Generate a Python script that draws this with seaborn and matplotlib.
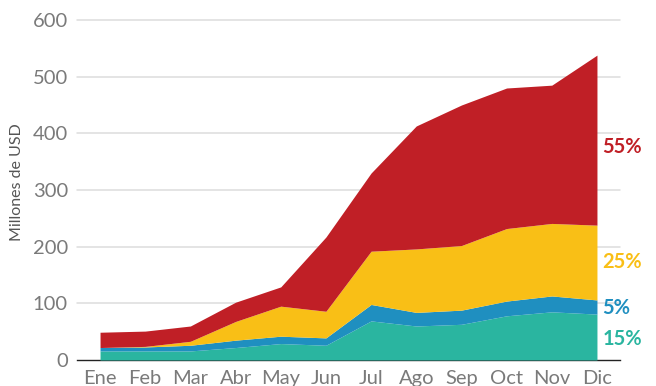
import matplotlib
matplotlib.use("Agg")
import matplotlib.pyplot as plt
import numpy as np
import seaborn as sns

# Monthly values (millions of USD) for each stacked layer, bottom to top
months = ["Ene", "Feb", "Mar", "Abr", "May", "Jun",
          "Jul", "Ago", "Sep", "Oct", "Nov", "Dic"]
teal_vals = [16, 16, 16, 22, 29, 26, 69, 60, 63, 78, 85, 81]
blue_vals = [6, 7, 10, 13, 13, 13, 29, 24, 25, 26, 28, 25]
yellow_vals = [0, 1, 7, 33, 53, 47, 94, 112, 114, 128, 128, 132]
red_vals = [27, 27, 27, 34, 34, 131, 138, 217, 248, 248, 244, 300]
share_labels = ["15%", "5%", "25%", "55%"]
y_ticks = [0, 100, 200, 300, 400, 500, 600]

colors = ["#2AB5A0", "#1F8FC0", "#F9BF16", "#C01F26"]
label_y = [37, 92, 173, 376]  # vertical placement of the share labels

sns.set_theme(style="white")
plt.rcParams["font.family"] = ["Lato", "DejaVu Sans"]

fig = plt.figure(figsize=(6.56, 3.86), dpi=100)
ax = fig.add_axes([77 / 656, 1 - 360 / 386, 543 / 656, 340 / 386])

x = np.arange(len(months))
ax.stackplot(x, teal_vals, blue_vals, yellow_vals, red_vals,
             colors=colors, linewidth=0, zorder=3)

ax.set_xlim(-0.51, 11.51)
ax.set_ylim(0, 600)
ax.set_yticks(y_ticks)
ax.set_xticks(x)
ax.set_xticklabels(months)

for v in y_ticks[1:]:
    ax.axhline(v, color="#DCDCDC", lw=1.1, zorder=1, clip_on=False)

for side in ["top", "right", "left"]:
    ax.spines[side].set_visible(False)
ax.spines["bottom"].set_color("#222222")
ax.spines["bottom"].set_linewidth(1.0)
ax.spines["bottom"].set_zorder(2)

ax.tick_params(axis="both", length=0, labelsize=14.5, labelcolor="#7A7A7A")
ax.tick_params(axis="y", pad=6.5)
ax.tick_params(axis="x", pad=7)

ax.set_ylabel("Millones de USD", fontsize=11.5, color="#555555")
ax.yaxis.set_label_coords(-0.097, 0.524)

for txt, yv, col in zip(share_labels, label_y, colors):
    ax.annotate(txt, xy=(x[-1], yv), xytext=(4, 0), textcoords="offset points",
                ha="left", va="center", fontsize=14.5, fontweight="bold",
                color=col, annotation_clip=False)

fig.savefig("out.png", dpi=100)
